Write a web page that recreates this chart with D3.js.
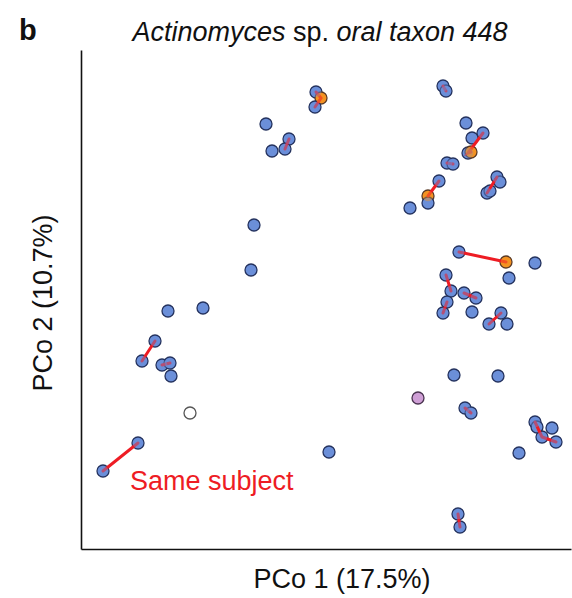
<!DOCTYPE html>
<html><head><meta charset="utf-8">
<script src="https://cdn.jsdelivr.net/npm/d3@7"></script>
<style>body{margin:0;background:#fff}svg{display:block}</style>
</head><body><div id="chart"></div>
<script>
// PCo coordinates (arbitrary units)
const pco1 = [ -0.004, 0.001, -0.005, -0.054, -0.048, -0.031, -0.035, -0.066, -0.069,
  0.123, 0.126, 0.146, 0.163, 0.152, 0.148, 0.151, 0.127, 0.133, 0.119, 0.108, 0.108, 0.090,
  0.177, 0.180, 0.167, 0.170, 0.139, 0.186, 0.215, 0.189, 0.126, 0.131, 0.144, 0.156, 0.127, 0.123, 0.152,
  0.181, 0.169, 0.187, -0.152, -0.117, -0.165, -0.178, -0.158, -0.150, -0.149, -0.130, -0.182, -0.217,
  0.009, 0.134, 0.178, 0.098, 0.145, 0.151, 0.215, 0.232, 0.222, 0.236, 0.217, 0.199, 0.138, 0.140 ];
const pco2 = [ 0.208, 0.202, 0.193, 0.176, 0.149, 0.161, 0.151, 0.075, 0.030,
  0.214, 0.209, 0.177, 0.167, 0.162, 0.147, 0.148, 0.137, 0.136, 0.119, 0.104, 0.097, 0.092,
  0.123, 0.118, 0.107, 0.109, 0.048, 0.038, 0.037, 0.022, 0.025, 0.009, 0.007, 0.002, -0.002, -0.013, -0.012,
  -0.013, -0.024, -0.024, -0.011, -0.008, -0.041, -0.061, -0.065, -0.063, -0.076, -0.113, -0.143, -0.171,
  -0.152, -0.075, -0.076, -0.098, -0.108, -0.113, -0.122, -0.128, -0.137, -0.142, -0.127, -0.153, -0.214, -0.227 ];
// sample type: 0 = blue, 1 = orange, 2 = purple, 3 = white
const sampleType = [0,1,0,0,0,0,0,0,0,
  0,0,0,0,0,0,1,0,0,0,1,0,0,
  0,0,0,0,0,1,0,0,0,0,0,0,0,0,0,
  0,0,0,0,0,0,0,0,0,0,3,0,0,
  0,0,0,2,0,0,0,0,0,0,0,0,0,0];
// subject id: samples sharing an id are joined by a red line (0 = none)
const subject = [1,1,1,0,0,2,2,0,0,
  3,3,0,4,0,4,4,5,5,6,6,0,0,
  7,0,7,0,8,8,0,0,9,9,10,10,11,11,0,
  12,12,0,0,0,13,13,14,14,0,0,15,15,
  0,0,0,0,16,16,17,0,17,17,0,0,18,18];
const typeFill = ["#6b8fd9", "#f39322", "#cf9fd6", "#ffffff"];
const typeStroke = ["#24325e", "#5a3a26", "#4a3350", "#555555"];
const title = ["Actinomyces", " sp. ", "oral taxon 448"];
const xLabel = "PCo 1 (17.5%)";
const yLabel = "PCo 2 (10.7%)";
const legendLabel = "Same subject";

const W = 572, H = 598;
const svg = d3.select("#chart").append("svg").attr("width", W).attr("height", H)
  .style("font-family", "'Liberation Sans', Arial, sans-serif");
const x = d3.scaleLinear().domain([-0.239, 0.251]).range([81, 571]);
const y = d3.scaleLinear().domain([-0.249, 0.25]).range([549, 50]);

const pts = pco1.map((v, i) => ({x: v, y: pco2[i], t: sampleType[i], s: subject[i]}));

// axes lines (no ticks)
svg.append("g").attr("transform", "translate(0,549)")
  .call(d3.axisBottom(x).tickValues([]).tickSizeOuter(0))
  .select(".domain").attr("stroke", "#111").attr("stroke-width", 1.6);
svg.append("g").attr("transform", "translate(81,0)")
  .call(d3.axisLeft(y).tickValues([]).tickSizeOuter(0))
  .select(".domain").attr("stroke", "#111").attr("stroke-width", 1.6);

// points
const g = svg.append("g");
g.selectAll("circle.pt").data(pts).join("circle").attr("class", "pt")
  .attr("cx", d => x(d.x)).attr("cy", d => y(d.y)).attr("r", 6)
  .attr("fill", d => typeFill[d.t]).attr("stroke", d => typeStroke[d.t]).attr("stroke-width", 1.3);

// same-subject lines
const groups = d3.groups(pts.filter(d => d.s > 0), d => d.s);
const line = d3.line().x(d => x(d.x)).y(d => y(d.y));
svg.append("g").selectAll("path").data(groups).join("path")
  .attr("d", d => line(d[1])).attr("fill", "none")
  .attr("stroke", "#ee1c24").attr("stroke-width", 3).attr("stroke-linecap", "round");

// translucent overlay on paired points
svg.append("g").selectAll("circle").data(pts.filter(d => d.s > 0)).join("circle")
  .attr("cx", d => x(d.x)).attr("cy", d => y(d.y)).attr("r", 5.3)
  .attr("fill", d => typeFill[d.t]).attr("opacity", 0.45);

// legend text
svg.append("text").attr("x", 130).attr("y", 490).attr("fill", "#ee1c24")
  .attr("font-size", 27).text(legendLabel);

// title
const t = svg.append("text").attr("x", 320).attr("y", 41).attr("text-anchor", "middle").attr("font-size", 27).attr("fill", "#111");
t.append("tspan").attr("font-style", "italic").text(title[0]);
t.append("tspan").text(title[1]);
t.append("tspan").attr("font-style", "italic").text(title[2]);
svg.append("text").attr("x", 19).attr("y", 40).attr("font-size", 29).attr("font-weight", "bold").attr("fill", "#111").text("b");

// axis labels
svg.append("text").attr("x", 342).attr("y", 588).attr("text-anchor", "middle").attr("font-size", 27).attr("fill", "#111").text(xLabel);
svg.append("text").attr("transform", "translate(52,303) rotate(-90)").attr("text-anchor", "middle")
  .attr("font-size", 27).attr("fill", "#111").text(yLabel);
</script></body></html>
